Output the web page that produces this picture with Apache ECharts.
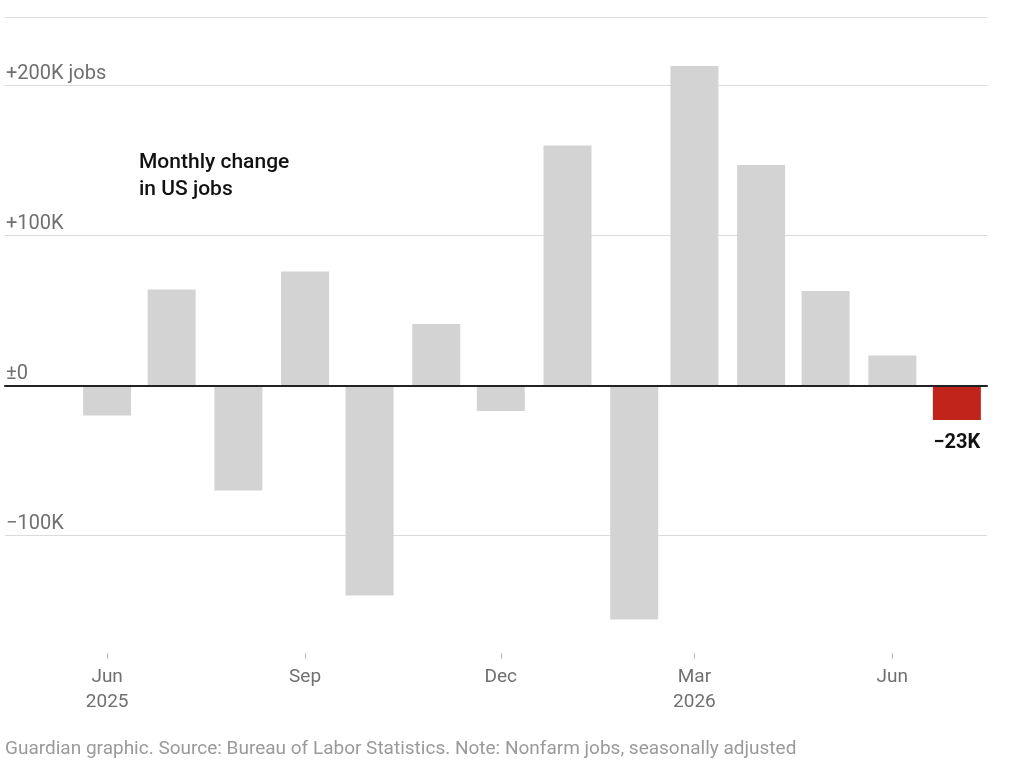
<!DOCTYPE html>
<html>
<head>
<meta charset="utf-8">
<title>Monthly change in US jobs</title>
<script src="https://cdn.jsdelivr.net/npm/echarts@6/dist/echarts.min.js"></script>
<style>
  html, body { margin: 0; padding: 0; background: #fff; }
  #chart-container { width: 1024px; height: 767px; }
</style>
</head>
<body>
<div id="chart-container"></div>
<script>
// monthly change in nonfarm jobs, thousands
var months = ['2025-06', '2025-07', '2025-08', '2025-09', '2025-10', '2025-11', '2025-12',
  '2026-01', '2026-02', '2026-03', '2026-04', '2026-05', '2026-06', '2026-07'];
var jobChange = [-20, 64, -70, 76, -140, 41, -17, 160, -156, 213, 147, 63, 20, -23];
var tickMonths = ['2025-06', '2025-09', '2025-12', '2026-03', '2026-06'];
var tickLabels = ['Jun\n2025', 'Sep', 'Dec', 'Mar\n2026', 'Jun'];
var valueTicks = { '200': '+200K jobs', '100': '+100K', '0': '\u00b10', '-100': '\u2212100K' };

var yTop = 245.7;     // value at the top rule
var yBottom = -178.3; // value at the month axis

var grey = '#d3d3d3';
var red = '#c0241b';
var font = 'Roboto';

// month -> day number, so the x axis is a real calendar scale (Feb is short)
function toDay(ym) {
  var p = ym.split('-');
  return Date.UTC(+p[0], +p[1] - 1, 1) / 86400000;
}

var tickDays = tickMonths.map(toDay);

var dom = document.getElementById('chart-container');
var myChart = echarts.init(dom, null, { renderer: 'canvas' });

var last = jobChange.length - 1;
var barData = jobChange.map(function (v, i) {
  var item = { value: [toDay(months[i]), v] };
  if (i === last) {
    item.itemStyle = { color: red };
    item.label = {
      show: true,
      position: 'bottom',
      distance: 13,
      color: '#121212',
      fontWeight: 'bold',
      fontSize: 20,
      fontFamily: font,
      formatter: function (p) {
        var n = p.value[1];
        return (n < 0 ? '\u2212' : '+') + Math.abs(n) + 'K';
      }
    };
  }
  return item;
});

var option = {
  animation: false,
  textStyle: { fontFamily: font },
  title: [
    {
      text: 'Monthly change\nin US jobs',
      left: 134,
      top: 144,
      textStyle: { fontSize: 21, fontWeight: 500, color: '#121212', lineHeight: 27, fontFamily: font }
    },
    {
      text: 'Guardian graphic. Source: Bureau of Labor Statistics. Note: Nonfarm jobs, seasonally adjusted',
      left: 0,
      top: 735,
      textStyle: { fontSize: 19, fontWeight: 'normal', color: '#9a9a9a', fontFamily: font }
    }
  ],
  grid: [
    // gridlines and value labels
    { left: 5, right: 37, top: 17, bottom: 231.5, outerBoundsMode: 'none' },
    // bars and month axis
    { left: 74, right: 34, top: 17, bottom: 114, outerBoundsMode: 'none' }
  ],
  xAxis: [
    {
      gridIndex: 0,
      type: 'value',
      min: 0,
      max: 1,
      z: 10,
      axisLine: { show: true, onZero: true, lineStyle: { color: '#222', width: 2 } },
      axisTick: { show: false },
      axisLabel: { show: false },
      splitLine: { show: false }
    },
    {
      gridIndex: 1,
      type: 'value',
      min: toDay(months[0]) - 15.4,
      max: toDay(months[last]) + 15.4,
      axisLine: { show: false, onZero: false },
      axisTick: {
        show: true,
        length: 6,
        customValues: tickDays,
        lineStyle: { color: '#bdbdbd', width: 1 }
      },
      axisLabel: {
        customValues: tickDays,
        showMinLabel: true,
        showMaxLabel: true,
        formatter: function (val) {
          var i = tickDays.indexOf(Math.round(val));
          return i >= 0 ? tickLabels[i] : '';
        },
        color: '#707070',
        fontSize: 19,
        lineHeight: 25,
        margin: 12,
        fontFamily: font,
        hideOverlap: false
      },
      splitLine: { show: false }
    }
  ],
  yAxis: [
    {
      gridIndex: 0,
      type: 'value',
      min: -100,
      max: yTop,
      interval: 100,
      axisLine: { show: false },
      axisTick: { show: false },
      axisLabel: {
        inside: true,
        margin: 1,
        verticalAlign: 'bottom',
        padding: [0, 0, 2, 0],
        color: '#707070',
        fontSize: 20,
        fontFamily: font,
        formatter: function (v) {
          var key = String(Math.round(v));
          return Math.abs(v - Math.round(v)) < 1e-6 && valueTicks[key] ? valueTicks[key] : '';
        }
      },
      splitLine: { show: true, lineStyle: { color: '#dcdcdc', width: 1 } }
    },
    {
      gridIndex: 1,
      type: 'value',
      min: yBottom,
      max: yTop,
      show: false,
      splitLine: { show: false }
    }
  ],
  series: [
    {
      type: 'bar',
      xAxisIndex: 1,
      yAxisIndex: 1,
      barWidth: 48,
      data: barData,
      itemStyle: { color: grey },
      emphasis: { disabled: true }
    }
  ]
};

myChart.setOption(option);
</script>
</body>
</html>
